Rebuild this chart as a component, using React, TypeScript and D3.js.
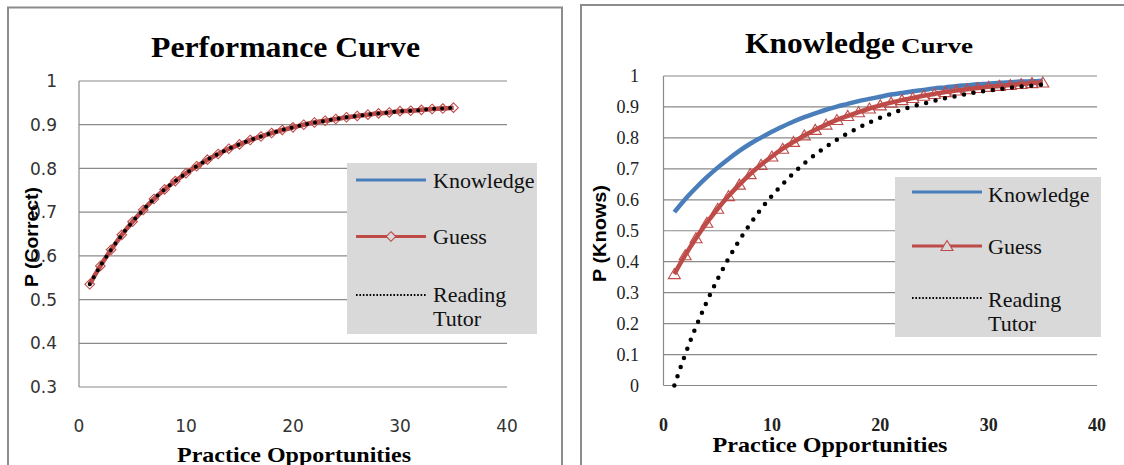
import React from 'react';
import * as d3 from 'd3';

// practice opportunities (x categories)
const practice = [1, 2, 3, 4, 5, 6, 7, 8, 9, 10, 11, 12, 13, 14, 15, 16, 17, 18, 19, 20,
  21, 22, 23, 24, 25, 26, 27, 28, 29, 30, 31, 32, 33, 34, 35];

// Performance curve: the three models lie on top of each other
const perfCorrect = [0.535, 0.577, 0.614, 0.648, 0.678, 0.705, 0.730, 0.752, 0.771, 0.789,
  0.805, 0.820, 0.833, 0.845, 0.855, 0.865, 0.873, 0.881, 0.888, 0.894,
  0.900, 0.905, 0.909, 0.913, 0.917, 0.920, 0.923, 0.926, 0.928, 0.931,
  0.932, 0.934, 0.936, 0.937, 0.939];

// Knowledge curve
const knowKnowledge = [0.560, 0.602, 0.639, 0.673, 0.704, 0.732, 0.758, 0.781, 0.801, 0.820,
  0.837, 0.853, 0.867, 0.879, 0.891, 0.901, 0.910, 0.919, 0.926, 0.933,
  0.940, 0.945, 0.951, 0.955, 0.960, 0.963, 0.967, 0.970, 0.973, 0.975,
  0.978, 0.980, 0.982, 0.983, 0.985];
const knowGuess = [0.360, 0.421, 0.476, 0.526, 0.571, 0.612, 0.649, 0.683, 0.713, 0.740,
  0.765, 0.787, 0.808, 0.826, 0.843, 0.858, 0.871, 0.883, 0.895, 0.905,
  0.914, 0.922, 0.929, 0.936, 0.942, 0.948, 0.953, 0.957, 0.961, 0.965,
  0.968, 0.971, 0.974, 0.977, 0.979];
const knowTutor = [0.000, 0.100, 0.190, 0.271, 0.344, 0.410, 0.469, 0.522, 0.570, 0.613,
  0.651, 0.686, 0.718, 0.746, 0.771, 0.794, 0.815, 0.833, 0.850, 0.865,
  0.878, 0.891, 0.902, 0.911, 0.920, 0.928, 0.935, 0.942, 0.948, 0.953,
  0.958, 0.962, 0.966, 0.969, 0.972];

const legendNames = ['Knowledge', 'Guess', 'Reading', 'Tutor'];
const xTicks = [0, 10, 20, 30, 40];
const perfYTicks = [0.3, 0.4, 0.5, 0.6, 0.7, 0.8, 0.9, 1];
const perfYLabels = ['0.3', '0.4', '0.5', '0.6', '0.7', '0.8', '0.9', '1'];
const knowYTicks = [0, 0.1, 0.2, 0.3, 0.4, 0.5, 0.6, 0.7, 0.8, 0.9, 1];
const knowYLabels = ['0', '0.1', '0.2', '0.3', '0.4', '0.5', '0.6', '0.7', '0.8', '0.9', '1'];

const SERIF = '"Liberation Serif", "Times New Roman", serif';
const SANS = '"Liberation Sans", Arial, sans-serif';
const TAHOMA = '"DejaVu Sans", Verdana, sans-serif';

const BLUE = '#4a7ebb';
const RED = '#be4b48';
const GRID = '#8a8a8a';
const FRAME = '#8c8c8c';
const LEGEND_BG = '#d9d9d9';

const diamondPath = 'M0,-4.8L4.8,0L0,4.8L-4.8,0Z';
const trianglePath = 'M0,-5.5L6,4.5L-6,4.5Z';

type Series = {
  values: number[];
  color: string;
  width: number;
  dots?: string;
  marker?: string;
};

type PanelCfg = {
  frame: { left: number; top: number; right: number };
  plot: { left: number; right: number; top: number; bottom: number };
  yDomain: [number, number];
  yTicks: number[];
  yLabels: string[];
  yLabelX: number;
  tickFont: string;
  tickSize: number;
  tickFill: string;
  xWeight: string;
  xLabelY: number;
  series: Series[];
  legend: { x: number; y: number; w: number; h: number; lx1: number; lx2: number; tx: number; rows: number[]; text: number[] };
};

function Panel({ cfg }: { cfg: PanelCfg }) {
  const { plot, frame, legend } = cfg;
  const x = d3.scaleLinear().domain([0, 40]).range([plot.left, plot.right]);
  const y = d3.scaleLinear().domain(cfg.yDomain).range([plot.bottom, plot.top]);
  const line = d3.line<number>()
    .x((_, i) => x(practice[i]))
    .y(v => y(v))
    .curve(d3.curveMonotoneX);

  const [kn, gu, rt] = cfg.series;

  return (
    <g>
      <path
        d={`M${frame.left},470V${frame.top}H${frame.right}V470`}
        fill="white" stroke={FRAME} strokeWidth={2}
      />
      {cfg.yTicks.map(t => (
        <line key={t} x1={plot.left} x2={plot.right} y1={y(t)} y2={y(t)} stroke={GRID} strokeWidth={1.2} />
      ))}
      <line x1={plot.left} x2={plot.left} y1={plot.top} y2={plot.bottom} stroke={GRID} strokeWidth={1.2} />
      {cfg.yTicks.map((t, i) => (
        <text key={t} x={cfg.yLabelX} y={y(t)} dy="0.36em" textAnchor="end"
          fontFamily={cfg.tickFont} fontSize={cfg.tickSize} fill={cfg.tickFill}>{cfg.yLabels[i]}</text>
      ))}
      {xTicks.map(t => (
        <text key={t} x={x(t)} y={cfg.xLabelY} textAnchor="middle"
          fontFamily={cfg.tickFont} fontWeight={cfg.xWeight} fontSize={cfg.tickSize} fill={cfg.tickFill}>{t}</text>
      ))}
      {cfg.series.map((s, i) => (
        <g key={i}>
          <path d={line(s.values) || ''} fill="none" stroke={s.color} strokeWidth={s.width}
            strokeDasharray={s.dots} strokeLinecap={s.dots ? 'round' : 'butt'} strokeLinejoin="round" />
          {s.marker && s.values.map((v, j) => (
            <path key={j} d={s.marker} transform={`translate(${x(practice[j])},${y(v)})`}
              fill="none" stroke={s.color} strokeWidth={1.1} />
          ))}
        </g>
      ))}
      <rect x={legend.x} y={legend.y} width={legend.w} height={legend.h} fill={LEGEND_BG} />
      <line x1={legend.lx1} x2={legend.lx2} y1={legend.rows[0]} y2={legend.rows[0]} stroke={kn.color} strokeWidth={3} />
      <line x1={legend.lx1} x2={legend.lx2} y1={legend.rows[1]} y2={legend.rows[1]} stroke={gu.color} strokeWidth={3} />
      {gu.marker && (
        <path d={gu.marker} transform={`translate(${(legend.lx1 + legend.lx2) / 2},${legend.rows[1]})`}
          fill={LEGEND_BG} stroke={gu.color} strokeWidth={1.1} />
      )}
      <line x1={legend.lx1} x2={legend.lx2} y1={legend.rows[2]} y2={legend.rows[2]} stroke={rt.color}
        strokeWidth={1.8} strokeDasharray="1.6 1.8" />
      {legendNames.map((n, i) => (
        <text key={n} x={legend.tx} y={legend.text[i]} fontFamily={SERIF} fontSize={22} fill="#111">{n}</text>
      ))}
    </g>
  );
}

const perfCfg: PanelCfg = {
  frame: { left: 8, top: 7.5, right: 562 },
  plot: { left: 79, right: 507, top: 81, bottom: 387 },
  yDomain: [0.3, 1],
  yTicks: perfYTicks,
  yLabels: perfYLabels,
  yLabelX: 57,
  tickFont: TAHOMA,
  tickSize: 17,
  tickFill: '#333',
  xWeight: 'normal',
  xLabelY: 432,
  series: [
    { values: perfCorrect, color: BLUE, width: 4 },
    { values: perfCorrect, color: RED, width: 4.5, marker: diamondPath },
    { values: perfCorrect, color: '#000', width: 4, dots: '0 8' },
  ],
  legend: { x: 347, y: 163, w: 190, h: 171, lx1: 356, lx2: 426, tx: 433, rows: [180, 236.5, 295], text: [188, 244, 302, 326] },
};

const knowCfg: PanelCfg = {
  frame: { left: 581, top: 5, right: 1135 },
  plot: { left: 663.5, right: 1097, top: 76, bottom: 385.5 },
  yDomain: [0, 1],
  yTicks: knowYTicks,
  yLabels: knowYLabels,
  yLabelX: 639,
  tickFont: SERIF,
  tickSize: 18,
  tickFill: '#222',
  xWeight: 'bold',
  xLabelY: 431,
  series: [
    { values: knowKnowledge, color: BLUE, width: 4.5 },
    { values: knowGuess, color: RED, width: 4.5, marker: trianglePath },
    { values: knowTutor, color: '#000', width: 4.5, dots: '0 9.7' },
  ],
  legend: { x: 895, y: 177, w: 206, h: 160, lx1: 912, lx2: 982, tx: 988, rows: [192, 246, 298], text: [202, 254, 307, 331] },
};

export default function App() {
  return (
    <svg width={1124} height={465} style={{ position: 'absolute', left: 0, top: 0, background: 'white' }}>
      <rect width={1124} height={465} fill="white" />
      <Panel cfg={perfCfg} />
      <Panel cfg={knowCfg} />

      <text x={151} y={57} fontFamily={SERIF} fontWeight="bold" fontSize={30}
        textLength={269} lengthAdjust="spacingAndGlyphs">Performance Curve</text>
      <text x={745} y={53} fontFamily={SERIF} fontWeight="bold" fontSize={30}
        textLength={150} lengthAdjust="spacingAndGlyphs">Knowledge</text>
      <text x={901} y={53} fontFamily={SERIF} fontWeight="bold" fontSize={20}
        textLength={72} lengthAdjust="spacingAndGlyphs">Curve</text>

      <text transform="translate(38,237) rotate(-90)" textAnchor="middle" fontFamily={SANS}
        fontWeight="bold" fontSize={18} textLength={100} lengthAdjust="spacingAndGlyphs">P (Correct)</text>
      <text transform="translate(606,233.5) rotate(-90)" textAnchor="middle" fontFamily={SANS}
        fontWeight="bold" fontSize={18} textLength={97} lengthAdjust="spacingAndGlyphs">P (Knows)</text>

      <text x={294} y={462} textAnchor="middle" fontFamily={SERIF} fontWeight="bold" fontSize={21}
        textLength={234} lengthAdjust="spacingAndGlyphs">Practice Opportunities</text>
      <text x={830} y={452} textAnchor="middle" fontFamily={SERIF} fontWeight="bold" fontSize={21}
        textLength={235} lengthAdjust="spacingAndGlyphs">Practice Opportunities</text>
    </svg>
  );
}
